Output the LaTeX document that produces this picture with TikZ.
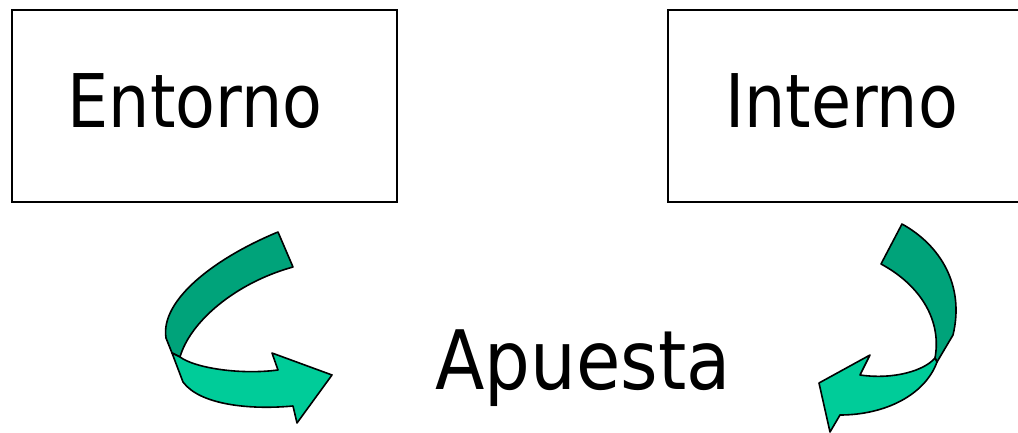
\documentclass[tikz,border=0pt]{standalone}
\usepackage{fontspec}
\setmainfont{DejaVu Sans}[FakeStretch=0.88]
\definecolor{darkteal}{RGB}{0,163,122}
\definecolor{lightteal}{RGB}{0,204,153}
\begin{document}
\begin{tikzpicture}[x=1pt,y=-1pt,
  boxshape/.style={draw=black, line width=1.3pt, inner sep=0pt, outer sep=0pt},
  lbl/.style={font=\fontsize{74}{80}\selectfont, anchor=base, inner sep=0pt},
  biglbl/.style={font=\fontsize{82}{90}\selectfont, anchor=base, inner sep=0pt},
  backpart/.style={fill=darkteal, draw=black, line width=1.6pt, line join=round},
  frontpart/.style={fill=lightteal, draw=black, line width=1.6pt, line join=round}]
\useasboundingbox (0,0) rectangle (1018,433);
\clip (0,0) rectangle (1018,433);
% boxes
\node[boxshape, minimum width=385pt, minimum height=192pt] (entbox) at (204.5,106) {};
\node[boxshape, minimum width=392pt, minimum height=192pt] (intbox) at (864,106) {};
\node[lbl] (ent) at (195,128) {Entorno};
\node[lbl] (int) at (841.5,128) {Interno};
\node[biglbl] (apu) at (583,389) {Apuesta};
% left curved arrow
\path[backpart] (278,232) .. controls (215,258) and (160,300) .. (166,338)
  -- (172,353) -- (180,357) .. controls (190,322) and (235,283) .. (293,267) -- cycle;
\path[frontpart] (172,353) -- (183,382) .. controls (200,405) and (250,410) .. (293,406)
  -- (297,423) -- (332,375) -- (272,353) -- (278,370)
  .. controls (240,375) and (195,368) .. (180,357) -- cycle;
% right curved arrow
\path[backpart] (902,224) .. controls (940,245) and (965,285) .. (953,335)
  -- (937,362) -- (935,358) .. controls (942,320) and (920,285) .. (881,264) -- cycle;
\path[frontpart] (937,362) .. controls (925,395) and (885,415) .. (840,415)
  -- (830,432) -- (819,383) -- (870,355) -- (860,375)
  .. controls (895,380) and (925,370) .. (935,358) -- cycle;
\end{tikzpicture}
\end{document}
